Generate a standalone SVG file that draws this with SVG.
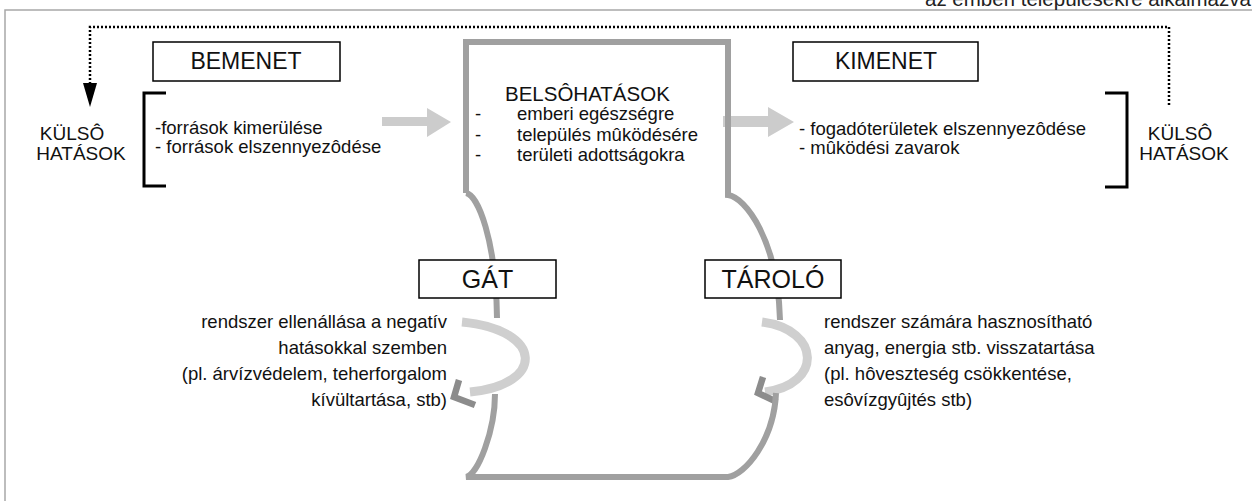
<svg xmlns="http://www.w3.org/2000/svg" width="1252" height="501" viewBox="0 0 1252 501">
<style>
text{font-family:"Liberation Sans",Arial,sans-serif;fill:#111}
.body{font-size:18.5px}
.caps{font-size:19px}
.lbl{font-size:23px}
.big{font-size:25px}
.box{fill:#fff;stroke:#000;stroke-width:1.5}
.brk{fill:none;stroke:#000;stroke-width:3}
.frame{fill:none;stroke:#a0a0a0;stroke-width:6}
.dot{fill:none;stroke:#000;stroke-width:2.5;stroke-dasharray:2 2}
.blk{fill:#cccccc}
.arc{fill:none;stroke:#cfcfcf;stroke-width:9}
.head{fill:none;stroke:#8c8c8c;stroke-width:6.5;stroke-linejoin:miter}
</style>
<rect width="1252" height="501" fill="#fff"/>
<g id="border">
<path d="M5,501 L5,10 L1252,10" fill="none" stroke="#a8a8a8" stroke-width="1.5"/>
<text x="925" y="6" style="font-size:20.5px;fill:#222">az emberi településekre alkalmazva</text>
</g>
<g id="connectors">
<path class="dot" d="M90,84 L90,27 L1169,27 L1169,107"/>
<polygon points="83,83 97,83 90,107" fill="#000"/>
<polygon class="blk" points="382,117 427,117 427,108 451,122 427,137 427,126 382,126"/>
<polygon class="blk" points="723,116 768,116 768,107 794,122 768,137 768,127 723,127"/>
<path class="arc" d="M462,322 C545,330 545,385 470,392"/>
<polyline class="head" points="459,380 454,397 475,405"/>
<path class="arc" d="M762,322 C822,330 822,385 765,392"/>
<polyline class="head" points="763,377 758,393 777,402"/>
</g>
<g id="belso">
<path class="frame" d="M466,193 L466,42 L728,42 L728,195 C745,197 778,240 780,320"/>
<path class="frame" d="M466,193 C478,195 496,240 497,318"/>
<path class="frame" d="M495,394 C495,430 478,475 466,477 L728,477 C745,475 774,440 776,393"/>
<text class="caps" x="505" y="101" style="font-size:20.5px">BELSÔHATÁSOK</text>
<text class="body" x="475" y="120">-</text>
<text class="body" x="517" y="120">emberi egészségre</text>
<text class="body" x="475" y="141">-</text>
<text class="body" x="517" y="141">település mûködésére</text>
<text class="body" x="475" y="161">-</text>
<text class="body" x="517" y="161">területi adottságokra</text>
</g>
<g id="bemenet">
<rect class="box" x="153" y="42" width="187" height="39"/>
<text class="lbl" x="246" y="69" text-anchor="middle">BEMENET</text>
</g>
<g id="kimenet">
<rect class="box" x="793" y="42" width="185" height="39"/>
<text class="lbl" x="886" y="69" text-anchor="middle">KIMENET</text>
</g>
<g id="kulso-bal">
<text class="caps" x="72" y="140" text-anchor="middle">KÜLSÔ</text>
<text class="caps" x="81" y="160" text-anchor="middle">HATÁSOK</text>
</g>
<g id="bemenet-lista">
<path class="brk" d="M166,93 L144,93 L144,186 L166,186"/>
<text class="body" x="155" y="134">-források kimerülése</text>
<text class="body" x="155" y="153">- források elszennyezôdése</text>
</g>
<g id="kimenet-lista">
<path class="brk" d="M1105,93 L1127,93 L1127,187 L1105,187"/>
<text class="body" x="799" y="135">- fogadóterületek elszennyezôdése</text>
<text class="body" x="799" y="154">- mûködési zavarok</text>
</g>
<g id="kulso-jobb">
<text class="caps" x="1180" y="140" text-anchor="middle">KÜLSÔ</text>
<text class="caps" x="1184" y="160" text-anchor="middle">HATÁSOK</text>
</g>
<g id="gat">
<rect class="box" x="419" y="260" width="137" height="38"/>
<text class="big" x="487.5" y="288" text-anchor="middle">GÁT</text>
</g>
<g id="tarolo">
<rect class="box" x="705" y="260" width="136" height="38"/>
<text class="big" x="773" y="288" text-anchor="middle">TÁROLÓ</text>
</g>
<g id="gat-leiras">
<text class="body" x="447" y="328" text-anchor="end">rendszer ellenállása a negatív</text>
<text class="body" x="447" y="354" text-anchor="end">hatásokkal szemben</text>
<text class="body" x="447" y="380" text-anchor="end">(pl. árvízvédelem, teherforgalom</text>
<text class="body" x="447" y="406" text-anchor="end">kívültartása, stb)</text>
</g>
<g id="tarolo-leiras">
<text class="body" x="824" y="328">rendszer számára hasznosítható</text>
<text class="body" x="824" y="354">anyag, energia stb. visszatartása</text>
<text class="body" x="824" y="380">(pl. hôveszteség csökkentése,</text>
<text class="body" x="824" y="406">esôvízgyûjtés stb)</text>
</g>
</svg>
